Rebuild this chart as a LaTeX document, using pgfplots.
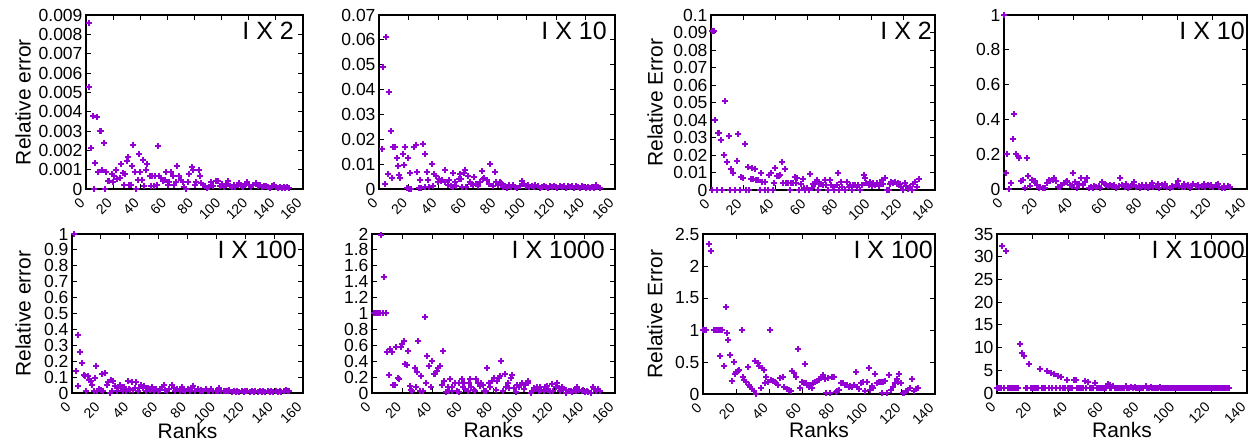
\documentclass[border=0pt]{standalone}
\usepackage{graphicx}
\usepackage{pgfplots}
\pgfplotsset{compat=1.18}
\usepackage{fontspec}
\setmainfont{Liberation Sans}
\definecolor{gpv}{RGB}{148,0,211}
\newcommand{\tickfont}{\fontsize{17.5}{18}\selectfont}
\newcommand{\xtickfont}{\fontsize{14}{14}\selectfont}
\newcommand{\labfont}{\fontsize{21}{22}\selectfont}
\newcommand{\titfont}{\fontsize{25}{26}\selectfont}
\pgfplotsset{
  /pgf/number format/assume math mode=true,
  gp/.style={
    scale only axis, anchor=south west, xmin=0, ymin=0, enlargelimits=false, clip=false,
    tick align=inside, major tick length=5pt, tick style={black, line width=0.9pt},
    axis line style={line width=1.1pt},
    tick label style={font=\tickfont},
    scaled ticks=false,
    yticklabel style={/pgf/number format/fixed},
    xticklabel={\rotatebox{45}{\pgfmathprintnumber{\tick}}},
    xticklabel style={font=\xtickfont, anchor=north east, inner sep=0pt}, xticklabel shift=8pt,
    label style={font=\labfont},
    ylabel style={anchor=center, rotate=0},
  },
  pts/.style={only marks, mark=+, mark size=3pt, color=gpv, mark options={solid, line width=2pt}},
  g160/.style={xmax=160, xtick={0,20,40,60,80,100,120,140,160}},
  g140/.style={xmax=140, xtick={0,20,40,60,80,100,120,140}},
}
\begin{document}
\begin{tikzpicture}[x=1pt,y=1pt]
\useasboundingbox (0,0) rectangle (1248,442);

% Panel 1
\begin{axis}[gp, g160, at={(86pt,253pt)}, width=217pt, height=174pt, ymax=0.009,
  ytick={0,0.001,0.002,0.003,0.004,0.005,0.006,0.007,0.008,0.009},
  yticklabel style={/pgf/number format/precision=3},
  ylabel={Relative error}, ylabel style={at={(axis description cs:-0.29,0.5)}}]
\addplot[pts] coordinates {(2.5,0.0086)(2,0.0053)(4,0.0021)(5,0.0038)(8,0.0037)(6,0)(7,0.00135)(10,0.0030)(11,0.0030)(9,0.00086)(13,0.0024)(12,0.0010)(14,0)(15,0.00086)(16,0.00042)(17,0.00042)(20,0.00036)(19,0.00076)(21,0.00065)(22,0.0010)(23,0.00052)(25,0.00057)(26,0.00127)(27,0.00083)(28,0.00022)(29,0.0008)(30,0.00145)(31,0.00165)(31.5,0.00022)(33,0.00022)(34,0.00117)(35,0.0023)(36,0.0009)(37,0)(38,0.00048)(39,0.00183)(39.5,0.0009)(41,0.00048)(42,0.00148)(43,0.00017)(44,0.0010)(45,0.00127)(47,0.00069)(48,0.00017)(49,0.00065)(50,0.00017)(51,0.00065)(52,0.00022)(53,0.00223)(54,0.00069)(55.5,0.00057)(57,0.0004)(58,0.00048)(59,0.00086)(60.5,0.00022)(61.5,0.00034)(63,0.00086)(64,0.00069)(65,0.00022)(66,0.00034)(67,0.00117)(68.5,0.00065)(70,0.00048)(71.5,0.00036)(72,0.0001)(74,0)(75,0.00034)(76,0.0008)(78,0.00112)(79,0.0010)(80,0.0002)(81,0.00034)(83,0.0010)(84,0.00065)(85,0.0003)(86.5,0.00022)(88,0.00014)(89.5,0.00003)(91,0.0001)(92.5,0.00034)(94,0.00017)(95.5,0.0004)(97,0.0004)(98.5,0.00017)(100,0.00028)(101.5,0.0001)(103,0.00022)(104.5,0.0004)(106,0.00017)(107.5,0.0001)(109,0.00022)(110,0.0001)(112,0.0002)(113,0.0003)(115,0.00017)(116,0.0001)(118,0.00028)(119,0.00034)(120.5,0.0002)(122,0.0001)(123.5,0.0002)(125,0.0003)(126.5,0.00014)(128,0.0002)(129.5,0.0001)(131,0.00017)(132.5,0.00014)(134,0.0001)(135.5,0.00007)(137,0.00017)(138.5,0.0002)(140,0.0001)(141.5,0.00007)(143,0.0001)(144.5,0.00007)(146,0.0001)(147,0.00005)(148.5,0.00008)(150,0.00007)};
\node[anchor=north east, font=\titfont, inner sep=0pt, xshift=-9pt, yshift=-7pt] at (rel axis cs:1,1) {I X 2};
\end{axis}

% Panel 2
\begin{axis}[gp, g160, at={(379pt,253pt)}, width=236pt, height=174pt, ymax=0.07,
  ytick={0,0.01,0.02,0.03,0.04,0.05,0.06,0.07},
  yticklabel style={/pgf/number format/precision=2}]
\addplot[pts] coordinates {(2,0.0159)(3,0.049)(4,0.002)(5,0.061)(6,0.006)(7,0.039)(8,0.0234)(9,0.0044)(9.5,0.0167)(11,0.0167)(12,0.0124)(13,0.0094)(13.5,0.0056)(14.5,0.0046)(16,0.0142)(17,0.0095)(17.5,0.0169)(19,0.0003)(20,0.0001)(19.5,0.0124)(21,0.0065)(22,0)(23.5,0.017)(25,0.0178)(26,0.007)(27,0.0005)(27.5,0.0038)(28.5,0.0004)(30,0.0183)(31,0.0142)(31.5,0.0008)(32.5,0.007)(33.5,0.0038)(34,0.0008)(36,0.0102)(36.5,0.0011)(37.5,0.0062)(38.5,0.0051)(40,0.0027)(40.5,0.004)(42,0.0031)(43,0.0038)(44.5,0.0027)(45,0.0078)(46.5,0.0017)(47.5,0.0035)(48.5,0.0011)(50,0.0065)(50.5,0.0008)(51.5,0.0027)(52.5,0.0013)(54,0.004)(55,0.0059)(55.5,0.004)(56.5,0.0008)(57.5,0.0065)(58.5,0.0075)(59,0.0008)(60.5,0.0051)(61.5,0.0027)(62.5,0.0022)(63.5,0.0017)(64.5,0.0048)(65.5,0.0022)(67,0.0013)(68.5,0.0027)(69.5,0.0071)(70.5,0.004)(71.5,0.0044)(73,0.0035)(74.5,0.0022)(75.5,0.0102)(77,0.0011)(78.5,0.0067)(79.5,0.0027)(81,0.0017)(82,0.003)(83,0.0024)(84,0.0008)(85.5,0.0013)(87,0.0004)(88,0.0016)(89.5,0.0008)(91,0.0017)(92.5,0.0008)(93.5,0.0003)(95.5,0.0011)(97,0.0031)(98,0.0022)(99.5,0.0011)(101,0.0016)(102,0.0008)(103.5,0.0013)(105,0.0008)(106,0.0016)(107.5,0.0011)(109,0.0004)(110.5,0.0008)(112,0.0013)(113,0.0008)(114.5,0.0004)(116,0.0011)(117,0.0008)(118.5,0.0013)(120,0.0008)(121,0.0004)(122.5,0.0011)(124,0.0008)(125.5,0.0013)(127,0.0005)(128,0.0011)(129.5,0.0008)(131,0.0013)(132,0.0005)(133.5,0.0011)(135,0.0008)(136,0.0003)(137.5,0.0011)(139,0.0008)(140,0.0005)(141.5,0.0008)(143,0.0003)(144.5,0.0008)(145.5,0.0003)(147,0.0017)(148,0.0008)(149.5,0.0003)};
\node[anchor=north east, font=\titfont, inner sep=0pt, xshift=-8pt, yshift=-7pt] at (rel axis cs:1,1) {I X 10};
\end{axis}

% Panel 3
\begin{axis}[gp, g140, at={(711pt,252pt)}, width=224pt, height=175pt, ymax=0.1,
  ytick={0,0.01,0.02,0.03,0.04,0.05,0.06,0.07,0.08,0.09,0.1},
  yticklabel style={/pgf/number format/precision=2},
  ylabel={Relative Error}, ylabel style={at={(axis description cs:-0.25,0.5)}}]
\addplot[pts] coordinates {(0.5,0.0908)(2,0.0908)(0.5,0)(2.5,0.040)(3.5,0)(4.5,0.0325)(5,0.0325)(6,0.0287)(7,0)(8,0.0199)(9,0.0509)(10,0.016)(11,0.0306)(12,0)(12.5,0.0122)(14,0.0099)(15,0)(16,0.0164)(17,0.0319)(18,0)(19,0.0073)(20,0.007)(21.5,0.0264)(22,0)(23,0.013)(24,0)(25,0.0063)(25.5,0.0124)(26.5,0.0063)(27.5,0.0118)(28,0.0057)(29.5,0.0057)(30.5,0)(31.5,0.0099)(32,0.0048)(33.5,0.0048)(34,0)(35.5,0)(36.5,0.0086)(37.5,0.0095)(38.5,0)(39.5,0.0042)(40,0.0124)(41,0.008)(42.5,0.008)(43,0.0086)(44.5,0.016)(45,0.0042)(46,0.0118)(47,0.0042)(48,0.0042)(49.5,0)(50,0.0042)(51,0.0042)(52.5,0.0076)(53,0.0042)(54,0.0069)(55,0)(56,0.0034)(57.5,0.0061)(58,0.001)(59,0)(60,0.001)(61,0)(62,0.0092)(63,0.001)(64,0.0034)(65,0.0034)(66,0.0057)(67,0)(67.5,0.0034)(69,0.0034)(70,0.0027)(71,0.0057)(72,0.0027)(73,0)(74.5,0.0057)(75,0.0027)(76,0.0015)(77,0)(78.5,0.0027)(79.5,0.0099)(80,0)(81.5,0.0048)(82,0.0019)(83.5,0)(85,0.0048)(86,0.0015)(87,0.0027)(88,0)(89,0.0027)(90,0.0027)(91,0.0015)(92,0.0027)(93,0)(94.5,0.0027)(95.5,0.0088)(96.5,0.0067)(97,0.0038)(98.5,0.0027)(99.5,0.0046)(100.5,0.0023)(101.5,0.0042)(102.5,0.0027)(103.5,0.0042)(105,0.0023)(105.5,0.0042)(107,0.0057)(107.5,0.0034)(109,0.0067)(110,0)(111,0)(112,0.0034)(112.5,0.0048)(114,0.0042)(115,0.0048)(116,0.0034)(117,0.0042)(118,0.0034)(119,0.0015)(120,0)(121.5,0.0042)(122,0.0023)(123,0.0004)(124.5,0.0019)(125.5,0)(126.5,0.0034)(127.5,0.0048)(129,0.0019)(130,0.0061)};
\node[anchor=north east, font=\titfont, inner sep=0pt, xshift=-3pt, yshift=-7pt] at (rel axis cs:1,1) {I X 2};
\end{axis}

% Panel 4
\begin{axis}[gp, g140, at={(1004pt,253pt)}, width=243pt, height=174pt, ymax=1,
  ytick={0,0.2,0.4,0.6,0.8,1},
  yticklabel style={/pgf/number format/precision=1}]
\addplot[pts] coordinates {(0,1.0)(1,0.092)(2,0.2)(3,0)(4,0.035)(5,0.29)(6,0.43)(7,0.2)(8,0.19)(8.5,0.177)(10,0.044)(11,0.054)(12,0.005)(13,0.177)(14,0.073)(15,0.015)(16,0.054)(17,0.044)(18,0.044)(19,0.025)(20,0.006)(21,0.012)(22.5,0.006)(23.5,0.003)(25,0.035)(26,0.05)(26.5,0.044)(28,0.054)(29,0.063)(30,0.044)(31,0.012)(32,0.012)(33,0.023)(34.5,0.035)(35.5,0.04)(36.5,0.044)(38,0.023)(39,0.015)(40,0.092)(41,0.04)(42,0.006)(43,0.031)(44.5,0.063)(45.5,0.023)(46.5,0.04)(48,0.063)(49,0.003)(50,0.012)(51,0.006)(52,0.015)(53,0.012)(54.5,0.015)(55.5,0.006)(56.5,0.04)(58,0.031)(59,0.023)(60,0.015)(61,0.023)(62.5,0.015)(63.5,0.023)(64.5,0.006)(66,0.015)(67,0.061)(68,0.023)(69.5,0.012)(70.5,0.031)(71.5,0.006)(73,0.015)(74,0.023)(75,0.04)(76,0.012)(77.5,0.019)(78.5,0.006)(79.5,0.023)(81,0.012)(82,0.023)(83,0.006)(84,0.023)(85,0.035)(86,0.012)(87.5,0.019)(88.5,0.031)(89.5,0.006)(91,0.023)(92,0.015)(93,0.027)(94,0.012)(95.5,0.006)(96.5,0.019)(97.5,0.012)(99,0.023)(100,0.044)(101,0.015)(102.5,0.012)(103.5,0.031)(104.5,0.012)(106,0.023)(107,0.006)(108,0.019)(109,0.031)(110.5,0.015)(111.5,0.023)(112.5,0.012)(114,0.019)(115,0.031)(116,0.012)(117.5,0.023)(118.5,0.015)(119.5,0.025)(120.5,0.012)(122,0.023)(123,0.031)(124,0.012)(125.5,0.006)(126.5,0.015)(127.5,0.006)(129,0.015)(130,0.012)};
\node[anchor=north east, font=\titfont, inner sep=0pt, xshift=-2pt, yshift=-7pt] at (rel axis cs:1,1) {I X 10};
\end{axis}

% Panel 5
\begin{axis}[gp, g160, at={(72pt,49pt)}, width=231pt, height=159pt, ymax=1,
  ytick={0,0.1,0.2,0.3,0.4,0.5,0.6,0.7,0.8,0.9,1},
  yticklabel style={/pgf/number format/precision=1},
  ylabel={Relative error}, ylabel style={at={(axis description cs:-0.212,0.5)}},
  xlabel={Ranks}, xlabel style={at={(axis description cs:0.5,-0.289)}, anchor=base}]
\addplot[pts] coordinates {(1.5,1.0)(3,0.136)(4,0.362)(4.5,0.042)(5.5,0.257)(7,0.186)(8,0.111)(9,0.105)(10,0.015)(11,0.105)(12,0.084)(13,0.077)(14,0.048)(15,0.01)(16,0.094)(16.5,0.167)(17.5,0.015)(19,0.027)(20,0.021)(21,0.119)(21.5,0.015)(23,0.126)(24,0.052)(25,0.069)(26,0)(27,0.084)(27.5,0.01)(28.5,0.073)(30,0.042)(31,0.01)(32,0.031)(33,0.048)(34,0.031)(35,0.01)(36,0.036)(37.5,0.01)(38.5,0.073)(39.5,0.027)(40.5,0.021)(41.5,0.069)(42.5,0.021)(43.5,0.031)(44.5,0.069)(45.5,0.015)(46.5,0.031)(48,0.048)(49,0.031)(50,0.042)(51.5,0.015)(52.5,0.031)(54,0.021)(55.5,0.036)(57,0.015)(58,0.027)(59.5,0.01)(61,0.021)(62.5,0.036)(63.5,0.048)(64.5,0.021)(66,0.01)(67.5,0.027)(69,0.048)(70.5,0.031)(71.5,0.015)(73,0.027)(74.5,0.015)(76,0.036)(77,0.021)(78.5,0.01)(80,0.027)(81.5,0.015)(83,0.031)(84,0.042)(85.5,0.015)(87,0.027)(88.5,0.01)(89.5,0.021)(91,0.015)(92.5,0.027)(94,0.01)(95,0.015)(96.5,0.027)(98,0.01)(99.5,0.015)(101,0.01)(102,0.031)(103.5,0.015)(105,0.01)(106.5,0.015)(108,0.01)(109,0.019)(110.5,0.006)(112,0.015)(113.5,0.006)(114.5,0.01)(116,0.006)(117.5,0.015)(119,0.006)(120,0.01)(121.5,0.015)(123,0.006)(124.5,0.01)(126,0.006)(127,0.015)(128.5,0.006)(130,0.01)(131.5,0.006)(132.5,0.01)(134,0.006)(135.5,0.01)(137,0.006)(138,0.01)(139.5,0.006)(141,0.01)(142.5,0.006)(144,0.01)(145,0.006)(146.5,0.01)(148,0.019)(149.5,0.015)(150.5,0.01)};
\node[anchor=north east, font=\titfont, inner sep=0pt, xshift=-6pt, yshift=-7pt] at (rel axis cs:1,1) {I X 100};
\end{axis}

% Panel 6
\begin{axis}[gp, g160, at={(372pt,49pt)}, width=243pt, height=159pt, ymax=2,
  ytick={0,0.2,0.4,0.6,0.8,1,1.2,1.4,1.6,1.8,2},
  yticklabel style={/pgf/number format/precision=1},
  xlabel={Ranks}, xlabel style={at={(axis description cs:0.5,-0.283)}, anchor=base}]
\addplot[pts] coordinates {(1,1.0)(2,1.0)(3,1.0)(4,1.0)(5,1.0)(6,1.99)(7,1.0)(8,1.46)(9,1.0)(9.5,1.0)(10,0.51)(11,0.225)(12,0.553)(13,0.51)(14,0.098)(15,0.098)(16,0.574)(17,0.183)(18,0.174)(19,0.574)(20,0.617)(21,0.651)(22,0.362)(23,0.353)(24,0.532)(25,0.085)(25.5,0.043)(26.5,0.02)(28,0.319)(29,0.072)(29.5,0.268)(30.5,0.651)(31.5,0.02)(32.5,0.213)(33.5,0.02)(35,0.95)(35.5,0.128)(36.5,0.468)(37.5,0.34)(39,0.072)(39.5,0.404)(40.5,0.243)(41.5,0.243)(42.5,0.277)(43.5,0.311)(44.5,0.34)(46,0.106)(46.5,0.532)(47.5,0.149)(48.5,0.013)(50,0.072)(50.5,0.03)(51.5,0.17)(52.5,0.072)(53,0.02)(54.5,0.128)(56,0.03)(57,0.013)(57.5,0.128)(59,0.17)(60,0.072)(60.5,0.128)(61.5,0.055)(63,0.02)(64,0.128)(64.5,0.17)(65.5,0.072)(67,0.043)(68,0.02)(68.5,0.17)(69.5,0.128)(71,0.085)(71.5,0.128)(73,0.098)(74,0.03)(75,0.02)(76,0.319)(77,0.128)(78,0.072)(79,0.149)(80.5,0.191)(81.5,0.043)(82.5,0.149)(83.5,0.191)(84.5,0.213)(85,0.404)(86,0.02)(87.5,0.243)(88.5,0.072)(89.5,0.128)(90.5,0.064)(91.5,0.191)(92.5,0.225)(93.5,0.064)(94.5,0.013)(95.5,0.106)(96.5,0.072)(97.5,0.098)(99,0.128)(100,0.055)(101,0.098)(102.5,0.128)(103,0.149)(104.5,0)(105.5,0.02)(106.5,0.064)(107.5,0.055)(108.5,0.072)(110,0.03)(110.5,0.072)(111.5,0.043)(113,0.02)(114,0.072)(115,0.085)(116,0.043)(117,0.02)(118.5,0.115)(119.5,0.03)(121,0.072)(122,0.128)(123,0.064)(124,0.02)(125,0.072)(126,0.055)(127.5,0)(128,0.043)(129.5,0.02)(131,0.03)(132,0.013)(133,0.043)(134.5,0.02)(135,0.072)(136.5,0.043)(138,0.02)(139,0.043)(140.5,0.013)(141.5,0.03)(142.5,0.013)(144,0)(145.5,0.072)(146,0.055)(147.5,0.03)(149,0.055)(150,0.02)};
\node[anchor=north east, font=\titfont, inner sep=0pt, xshift=-10pt, yshift=-7pt] at (rel axis cs:1,1) {I X 1000};
\end{axis}

% Panel 7
\begin{axis}[gp, g140, at={(703pt,48pt)}, width=232pt, height=160pt, ymax=2.5,
  ytick={0,0.5,1,1.5,2,2.5},
  yticklabel style={/pgf/number format/precision=1},
  ylabel={Relative Error}, ylabel style={at={(axis description cs:-0.207,0.5)}},
  xlabel={Ranks}, xlabel style={at={(axis description cs:0.5,-0.275)}, anchor=base}]
\addplot[pts] coordinates {(0,1.0)(1,1.0)(2,1.0)(3.6,2.34)(5,2.23)(6.5,1.0)(7.5,1.0)(8.5,1.0)(9.5,1.0)(10,1.0)(11.5,1.0)(10.5,0.59)(12.5,0.435)(13.7,1.36)(14.5,0.95)(15.3,0.85)(16.5,0.61)(17.3,0.21)(18.5,0.5)(19.3,0.32)(20,0.35)(21.3,0.36)(22,0.38)(23.4,1.0)(24,0.26)(25,0.215)(26,0.18)(27,0.415)(27.8,0.14)(28.6,0.115)(29.4,0.08)(30.6,0.04)(31.4,0.51)(32.2,0)(33,0.49)(33.8,0.445)(35,0.09)(35.9,0.4)(36.7,0.37)(37.5,0.17)(38.3,0.27)(39.5,0.195)(40.3,1.0)(41,0.215)(42.3,0.205)(43.5,0.195)(44.3,0.17)(45.5,0.14)(46.7,0.25)(48,0.26)(49,0.11)(50.4,0.08)(51.6,0.06)(52.8,0.04)(54,0.36)(55.2,0.325)(56.4,0.26)(57.6,0.7)(58.8,0.09)(60,0.195)(60.8,0.17)(61.6,0.47)(62.4,0.17)(63.7,0.115)(64.5,0.14)(65.7,0.09)(66.5,0.17)(67.7,0.195)(68.9,0.205)(70,0.225)(71.3,0.26)(72.5,0.29)(73.7,0.235)(74.5,0.01)(75.7,0.245)(76.5,0.01)(77.8,0.26)(79,0.26)(80.2,0.025)(81,0.045)(82.2,0.07)(83.4,0.17)(84.6,0.17)(85.8,0.14)(87,0.14)(87.8,0.115)(89,0.13)(89.8,0.115)(91,0.14)(92.3,0.35)(93,0.115)(94.3,0.08)(95.5,0.17)(96.7,0.185)(97.9,0.045)(98.7,0.185)(100,0.4)(100.7,0.06)(102,0.13)(102.7,0.1)(104,0.31)(104.8,0.17)(106,0.195)(107.2,0.195)(108,0.01)(108.8,0.195)(110,0.205)(111.2,0.01)(112,0.3)(113.2,0.06)(114.4,0.115)(115.6,0.17)(116.8,0.235)(117.6,0.195)(118.4,0.31)(119.3,0.17)(120.5,0.01)(121.3,0.01)(122.5,0.04)(123.7,0.06)(124.9,0.09)(126.1,0.235)(127.3,0.04)(128.5,0.08)(129.7,0.09)};
\node[anchor=north east, font=\titfont, inner sep=0pt, xshift=-2pt, yshift=-7pt] at (rel axis cs:1,1) {I X 100};
\end{axis}

% Panel 8
\begin{axis}[gp, g140, at={(997pt,49pt)}, width=250pt, height=159pt, ymax=35,
  ytick={0,5,10,15,20,25,30,35},
  xlabel={Ranks}, xlabel style={at={(axis description cs:0.5,-0.277)}, anchor=base}]
\addplot[pts] coordinates {(3,32.4)(5,31.3)(13,10.7)(14,8.8)(15,8.2)(18,6.4)(24,5.2)(28,4.8)(30,4.5)(32,4.2)(34,3.7)(36,3.5)(39,2.95)(43,2.95)(44,2.8)(49,2.6)(51,2.4)(55,2.2)(62,2.0)(63.5,1.85)(65,1.5)(68,1.2)(72,1.5)(75,1.3)(77,1.4)(80,1.2)(83.5,1.5)(86.5,1.4)(91,1.25)(95,1.2)(100,1.15)
(0,1)(1,1)(2,1)(4,1)(6,1)(7,1)(8,1)(9,1)(10,1)(11,1)(12,1)(16,1)(17,1)(19,1)(20,1)(21,1)(22,1)(23,1)(25,1)(26,1)(27,1)(29,1)(31,1)(33,1)(35,1)(37,1)(38,1)(40,1)(41,1)(42,1)(45,1)(46,1)(47,1)(48,1)(50,1)(52,1)(53,1)(54,1)(56,1)(57,1)(58,1)(59,1)(60,1)(61,1)(63,1)(64,1)(66,1)(67,1)(69,1)(70,1)(71,1)(73,1)(74,1)(76,1)(78,1)(79,1)(81,1)(82,1)(84,1)(85,1)(87,1)(88,1)(89,1)(90,1)(92,1)(93,1)(94,1)(96,1)(97,1)(98,1)(99,1)(101,1)(102,1)(103,1)(104,1)(105,1)(106,1)(107,1)(108,1)(109,1)(110,1)(111,1)(112,1)(113,1)(114,1)(115,1)(116,1)(117,1)(118,1)(119,1)(120,1)(121,1)(122,1)(123,1)(124,1)(125,1)(126,1)(127,1)(128,1)(129,1)(130,1)};
\node[anchor=north east, font=\titfont, inner sep=0pt, xshift=-2pt, yshift=-7pt] at (rel axis cs:1,1) {I X 1000};
\end{axis}
\end{tikzpicture}
\end{document}
